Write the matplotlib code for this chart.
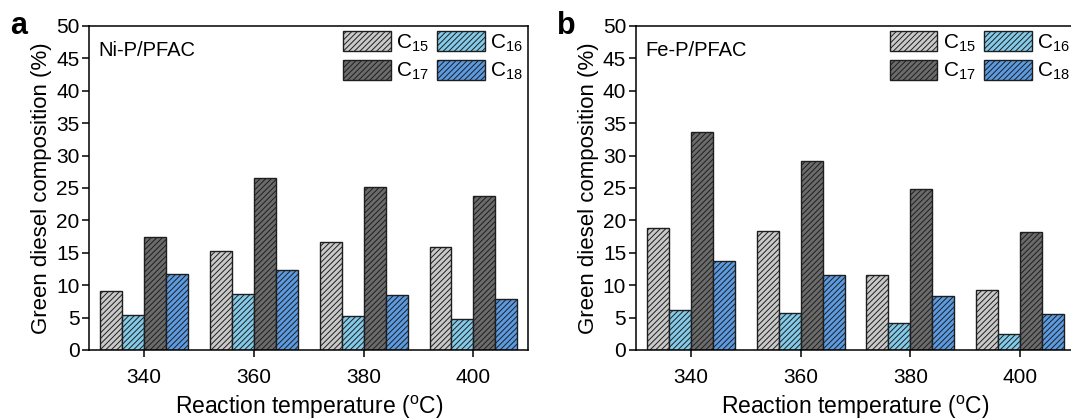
import numpy as np
import matplotlib
matplotlib.use('Agg')
import matplotlib.pyplot as plt

plt.rcParams['font.family'] = ['Liberation Sans', 'DejaVu Sans']
plt.rcParams['mathtext.fontset'] = 'custom'
plt.rcParams['mathtext.rm'] = 'Liberation Sans'
plt.rcParams['mathtext.it'] = 'Liberation Sans'
plt.rcParams['hatch.linewidth'] = 0.7

# data
temperatures = [340, 360, 380, 400]
series_names = ['C$_{15}$', 'C$_{16}$', 'C$_{17}$', 'C$_{18}$']
series_colors = ['#c9c9c9', '#84cbea', '#6b6b6b', '#5c9be2']

nip_c15 = [9.1, 15.2, 16.7, 15.9]
nip_c16 = [5.4, 8.6, 5.3, 4.8]
nip_c17 = [17.5, 26.6, 25.2, 23.7]
nip_c18 = [11.7, 12.3, 8.5, 7.8]

fep_c15 = [18.9, 18.3, 11.6, 9.2]
fep_c16 = [6.2, 5.7, 4.1, 2.4]
fep_c17 = [33.6, 29.1, 24.9, 18.2]
fep_c18 = [13.7, 11.5, 8.3, 5.5]

panels = [
    ('a', 'Ni-P/PFAC', [nip_c15, nip_c16, nip_c17, nip_c18]),
    ('b', 'Fe-P/PFAC', [fep_c15, fep_c16, fep_c17, fep_c18]),
]

fig = plt.figure(figsize=(10.71, 4.2), dpi=100)
lefts = [0.0833, 0.5938]

bar_w = 4
offsets = [-6, -2, 2, 6]

for left, (letter, catalyst, values) in zip(lefts, panels):
    ax = fig.add_axes([left, 0.1667, 0.41, 0.7714])
    handles = []
    for vals, off, col, name in zip(values, offsets, series_colors, series_names):
        b = ax.bar(np.array(temperatures) + off, vals, width=bar_w, color=col,
                   edgecolor='#1e1e1e', linewidth=1.0, hatch='//////', label=name)
        handles.append(b)

    ax.set_xlim(330, 410)
    ax.set_ylim(0, 50)
    ax.set_xticks(temperatures)
    ax.set_yticks(range(0, 51, 5))
    ax.tick_params(direction='out', length=5, width=1.1, labelsize=15, pad=2)
    ax.tick_params(axis='x', pad=8)
    for sp in ax.spines.values():
        sp.set_linewidth(1.1)
    ax.set_xlabel(r'Reaction temperature ($^{\rm o}$C)', fontsize=16.5, labelpad=5)
    ax.set_ylabel('Green diesel composition (%)', fontsize=16, labelpad=3)

    ax.text(0.022, 0.925, catalyst, transform=ax.transAxes, fontsize=14.5,
            va='center', ha='left')
    ax.text(-0.18, 1.0, letter, transform=ax.transAxes, fontsize=22,
            fontweight='bold', va='center', ha='left')

    # legend filled column-wise, so reorder to get C15 C16 / C17 C18
    order = [0, 2, 1, 3]
    ax.legend([handles[i] for i in order], [series_names[i] for i in order],
              ncol=2, loc='upper right', bbox_to_anchor=(1.0, 1.0),
              frameon=False, fontsize=15, handlelength=2.3, handleheight=1.1,
              labelspacing=0.3, handletextpad=0.25, columnspacing=0.4,
              borderpad=0.15, borderaxespad=0.1)

fig.savefig('out.png', dpi=100)
